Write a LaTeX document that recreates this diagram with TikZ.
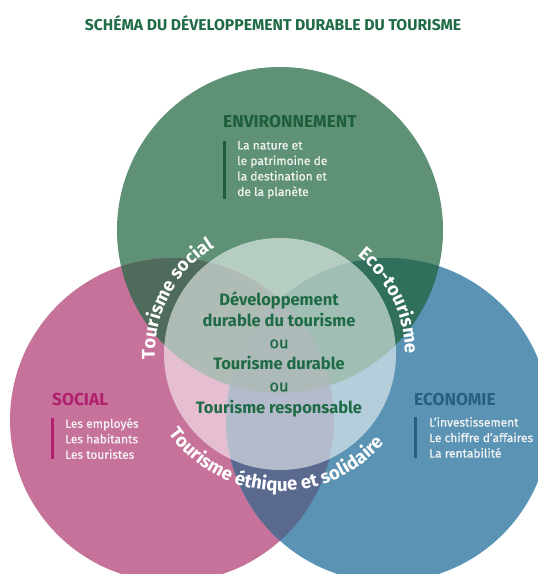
\documentclass[tikz,border=0pt]{standalone}
\usepackage{fontspec}
\setmainfont{Fira Sans}
\newfontfamily\medfont{Fira Sans}[FakeBold=0.5]
\usetikzlibrary{decorations.text,calc}
\definecolor{cgreen}{HTML}{5E9176}
\definecolor{cpink}{HTML}{C7729B}
\definecolor{cblue}{HTML}{5A93B3}
\definecolor{cgp}{HTML}{4F6B5C}
\definecolor{cgb}{HTML}{2F6F5C}
\definecolor{cpb}{HTML}{5A6A8E}
\definecolor{cgpb}{HTML}{4A6664}
\definecolor{ctitle}{HTML}{1F6B45}
\definecolor{cenv}{HTML}{1D5E3B}
\definecolor{csoc}{HTML}{B0206E}
\definecolor{ceco}{HTML}{2B5F80}
\definecolor{ctext}{HTML}{F4F4F4}
\newcommand\arcfont{\fontsize{18.5}{18.5}\selectfont\bfseries}
\tikzset{
  titlestyle/.style={font=\fontsize{15.7}{19}\selectfont\bfseries, text=ctitle, inner sep=0},
  headstyle/.style={font=\fontsize{17.3}{19}\selectfont\bfseries, anchor=west, inner sep=0},
  bodystyle/.style={font=\fontsize{12}{15.5}\selectfont\medfont, text=ctext, align=left, anchor=north west, inner sep=0},
  corestyle/.style={font=\fontsize{16.5}{21.6}\selectfont\bfseries, text=ctitle, align=center, inner sep=0},
  barstyle/.style={line width=3pt},
}
\begin{document}
\begin{tikzpicture}[x=1pt,y=1pt]
\useasboundingbox[fill=white] (0,0) rectangle (538,574);
\def\pathG{(280,344) circle (163pt)}
\def\pathP{(172,154) circle (162pt)}
\def\pathB{(388,154) circle (162pt)}
\def\pathI{(280,220) circle (116pt)}
\fill[cgreen] \pathG;
\fill[cpink] \pathP;
\fill[cblue] \pathB;
\begin{scope} \clip \pathP; \fill[cgp] \pathG; \end{scope}
\begin{scope} \clip \pathB; \fill[cgb] \pathG; \end{scope}
\begin{scope} \clip \pathP; \fill[cpb] \pathB; \end{scope}
\begin{scope} \clip \pathP; \clip \pathB; \fill[cgpb] \pathG; \end{scope}
\fill[white, fill opacity=0.55] \pathI;

\coordinate (ci) at (280,220);

\node[titlestyle] (title) at (273,551) {SCHÉMA DU DÉVELOPPEMENT DURABLE DU TOURISME};

\node[headstyle, text=cenv] (envhead) at (223,452) {ENVIRONNEMENT};
\node[bodystyle] (envbody) at (237,433) {La nature et\\le patrimoine de\\la destination et\\de la planète};
\draw[barstyle, cenv] ([xshift=-13pt]envbody.north west) -- ([xshift=-13pt]envbody.south west);

\node[headstyle, text=csoc] (sochead) at (52,174) {SOCIAL};
\node[bodystyle] (socbody) at (65,156) {Les employés\\Les habitants\\Les touristes};
\draw[barstyle, csoc] ([xshift=-13pt]socbody.north west) -- ([xshift=-13pt]socbody.south west);

\node[headstyle, text=ceco] (ecohead) at (414,174) {ECONOMIE};
\node[bodystyle] (ecobody) at (429,157) {L’investissement\\Le chiffre d’affaires\\La rentabilité};
\draw[barstyle, ceco] ([xshift=-14pt]ecobody.north west) -- ([xshift=-14pt]ecobody.south west);

\node[corestyle] (core) at (279,220) {Développement\\durable du tourisme\\{\mdseries\medfont ou}\\Tourisme durable\\{\mdseries\medfont ou}\\Tourisme responsable};

\path[decorate, decoration={text along path, text align=center, text color=white,
  text={|\arcfont|Tourisme social}}]
  ($(ci)+(192:125pt)$) arc[start angle=192, end angle=112, radius=125pt];
\path[decorate, decoration={text along path, text align=center, text color=white,
  text={|\arcfont|Eco-tourisme}}]
  ($(ci)+(66:125pt)$) arc[start angle=66, end angle=-14, radius=125pt];
\path[decorate, decoration={text along path, text align=center, text color=white,
  text={|\arcfont|Tourisme éthique et solidaire}}]
  ($(ci)+(200:137pt)$) arc[start angle=200, end angle=335, radius=137pt];
\end{tikzpicture}
\end{document}
